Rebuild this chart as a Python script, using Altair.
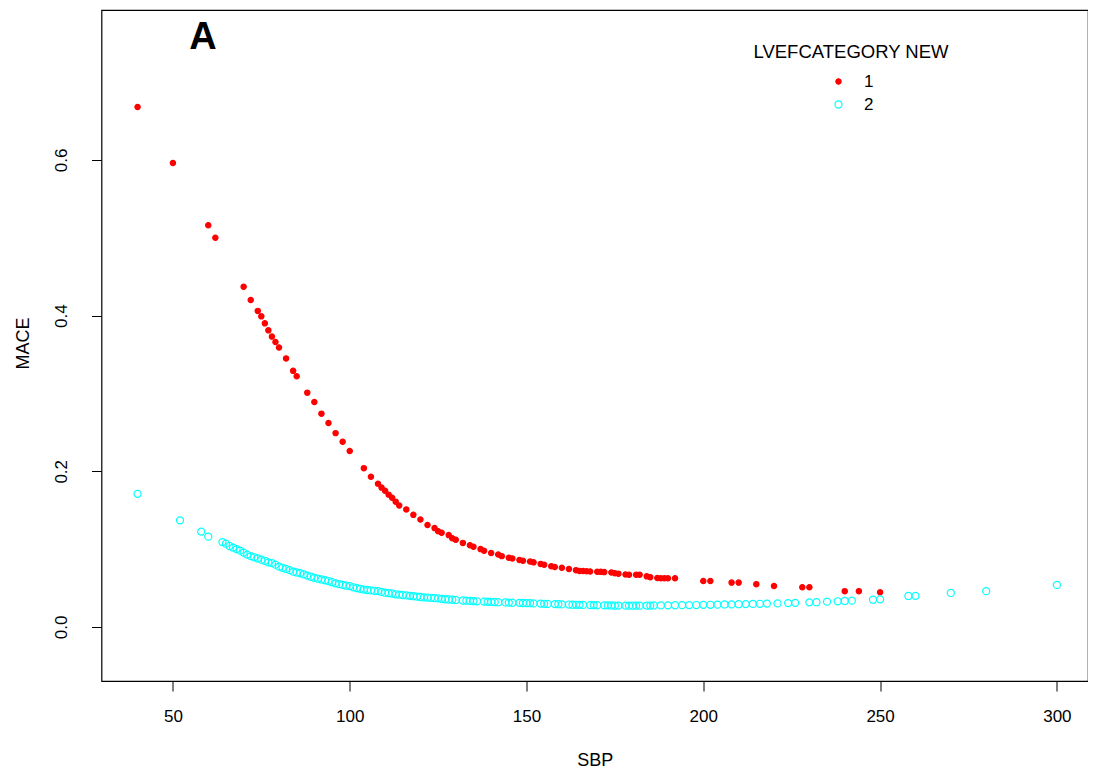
import altair as alt
import pandas as pd

# ---- data ----
red_sbp = [40, 50, 60, 62, 70, 72, 74, 75, 76, 77, 78, 79, 80, 82, 84, 85, 88, 90, 92, 94,
           96, 98, 100, 104, 106, 108, 109, 110, 111, 112, 113, 114, 116, 118, 120, 122, 124,
           125, 126, 128, 129, 130, 132, 134, 135, 137, 138, 140, 142, 143, 145, 146, 148, 149,
           151, 152, 154, 155, 157, 158, 160, 162, 164, 165, 166, 167, 168, 170, 171, 172, 174,
           175, 176, 178, 179, 181, 182, 184, 185, 187, 188, 189, 190, 192, 200, 202, 208, 210,
           215, 220, 228, 230, 240, 244, 250]
red_mace = [0.668, 0.596, 0.516, 0.500, 0.437, 0.420, 0.406, 0.399, 0.390, 0.381, 0.373, 0.366,
            0.359, 0.345, 0.329, 0.322, 0.301, 0.289, 0.274, 0.262, 0.249, 0.238, 0.226, 0.204,
            0.193, 0.184, 0.179, 0.175, 0.170, 0.166, 0.161, 0.156, 0.151, 0.144, 0.138, 0.131,
            0.127, 0.123, 0.121, 0.118, 0.114, 0.112, 0.108, 0.105, 0.103, 0.100, 0.098, 0.095,
            0.093, 0.091, 0.089, 0.088, 0.086, 0.085, 0.084, 0.083, 0.081, 0.080, 0.078, 0.077,
            0.076, 0.0745, 0.073, 0.072, 0.0718, 0.0715, 0.0713, 0.071, 0.0708, 0.0705, 0.070,
            0.069, 0.0685, 0.0675, 0.067, 0.067, 0.067, 0.065, 0.064, 0.063, 0.0625, 0.0625,
            0.0625, 0.0625, 0.059, 0.059, 0.057, 0.057, 0.055, 0.0527, 0.051, 0.051, 0.046,
            0.046, 0.0445]

cyan_sbp = [40, 52, 58, 60, 64, 65, 66, 67, 68, 69, 70, 71, 72, 73, 74, 75, 76, 77, 78, 79, 80,
            81, 82, 83, 84, 85, 86, 87, 88, 89, 90, 91, 92, 93, 94, 95, 96, 97, 98, 99, 100, 101,
            102, 103, 104, 105, 106, 107, 108, 109, 110, 111, 112, 113, 114, 115, 116, 117, 118,
            119, 120, 121, 122, 123, 124, 125, 126, 127, 128, 129, 130, 132, 133, 134, 135, 136,
            138, 139, 140, 141, 142, 144, 145, 146, 148, 149, 150, 151, 152, 154, 155, 156, 158,
            159, 160, 162, 163, 164, 165, 166, 168, 169, 170, 172, 173, 174, 175, 176, 178, 179,
            180, 181, 182, 184, 185, 186, 188, 190, 192, 194, 196, 198, 200, 202, 204, 206, 208,
            210, 212, 214, 216, 218, 221, 224, 226, 230, 232, 235, 238, 240, 242, 248, 250, 258,
            260, 270, 280, 300]
cyan_mace = [0.171, 0.137, 0.1225, 0.116, 0.109, 0.107, 0.104, 0.102, 0.100, 0.098, 0.0955,
             0.093, 0.091, 0.0895, 0.088, 0.0865, 0.085, 0.083, 0.082, 0.080, 0.0775, 0.076,
             0.0745, 0.073, 0.071, 0.070, 0.069, 0.0675, 0.066, 0.0645, 0.063, 0.062, 0.061,
             0.060, 0.059, 0.0575, 0.056, 0.055, 0.054, 0.053, 0.0525, 0.051, 0.050, 0.049,
             0.048, 0.0475, 0.047, 0.0465, 0.046, 0.045, 0.044, 0.0435, 0.043, 0.042, 0.0415,
             0.041, 0.0405, 0.040, 0.0395, 0.039, 0.0385, 0.038, 0.0378, 0.0375, 0.037, 0.0368,
             0.036, 0.0356, 0.0353, 0.035, 0.0347, 0.034, 0.0338, 0.0335, 0.0333, 0.033, 0.0326,
             0.0324, 0.0322, 0.032, 0.0318, 0.0315, 0.0313, 0.0311, 0.031, 0.0308, 0.0306,
             0.0305, 0.0303, 0.030, 0.0298, 0.0296, 0.0294, 0.0292, 0.029, 0.0288, 0.0286,
             0.0285, 0.0284, 0.0283, 0.0281, 0.028, 0.0279, 0.0278, 0.0277, 0.0276, 0.0275,
             0.0275, 0.0274, 0.0274, 0.0274, 0.0274, 0.0274, 0.0275, 0.0275, 0.0276, 0.0277,
             0.0278, 0.0279, 0.028, 0.0281, 0.0282, 0.0284, 0.0285, 0.0287, 0.0289, 0.029,
             0.0292, 0.0294, 0.0296, 0.0298, 0.030, 0.0303, 0.0307, 0.031, 0.0316, 0.0318,
             0.0325, 0.033, 0.0334, 0.0338, 0.035, 0.0355, 0.0398, 0.040, 0.0437, 0.046, 0.054]

categories = ["1", "2"]
x_ticks = [50, 100, 150, 200, 250, 300]
y_ticks = [0.0, 0.2, 0.4, 0.6]
panel_text = ["A"]
legend_heading = ["LVEFCATEGORY NEW"]

df = pd.DataFrame({
    "SBP": red_sbp + cyan_sbp,
    "MACE": red_mace + cyan_mace,
    "LVEF": [categories[0]] * len(red_sbp) + [categories[1]] * len(cyan_sbp),
})

FONT = "Liberation Sans"
W = 986.5
H = 671
LEFT = 101.5
TOP = 10

leg = alt.Legend(title=None, orient="none", legendX=838 - LEFT - 8, legendY=73 - TOP,
                 labelFont=FONT, labelFontSize=17, labelColor="#000", labelOffset=17,
                 rowPadding=5, padding=0, symbolStrokeWidth=1.2)

points = alt.Chart(df).mark_point(shape="circle", strokeWidth=1.2, opacity=1).encode(
    x=alt.X("SBP:Q",
            scale=alt.Scale(domain=[29.8, 308.8], nice=False, zero=False),
            axis=alt.Axis(values=x_ticks, title="SBP", grid=False, domain=False,
                          tickColor="#000", tickSize=10, tickWidth=1,
                          labelFont=FONT, labelFontSize=17, labelColor="#000", labelPadding=17,
                          titleFont=FONT, titleFontSize=18, titleFontWeight="normal",
                          titleColor="#000", titleY=79, titleBaseline="middle")),
    y=alt.Y("MACE:Q",
            scale=alt.Scale(domain=[-0.0694, 0.7925], nice=False, zero=False),
            axis=alt.Axis(values=y_ticks, format=".1f", title="MACE", grid=False, domain=False,
                          tickColor="#000", tickSize=10, tickWidth=1,
                          labelFont=FONT, labelFontSize=17, labelColor="#000", labelPadding=21,
                          labelAngle=270, labelAlign="center", labelBaseline="bottom",
                          titleFont=FONT, titleFontSize=18, titleFontWeight="normal",
                          titleColor="#000", titleAngle=270, titleX=23 - LEFT, titleY=343 - TOP,
                          titleAlign="center", titleBaseline="middle")),
    fill=alt.Fill("LVEF:N", scale=alt.Scale(domain=categories, range=["#FF0000", "transparent"]),
                  legend=leg),
    stroke=alt.Stroke("LVEF:N", scale=alt.Scale(domain=categories, range=["#FF0000", "#00FFFF"]),
                      legend=leg),
    size=alt.Size("LVEF:N", scale=alt.Scale(domain=categories, range=[28, 50]), legend=leg),
)

panel_label = alt.Chart(pd.DataFrame({"t": panel_text})).mark_text(
    font=FONT, fontSize=38, fontWeight="bold", color="#000",
    align="center", baseline="alphabetic").encode(
    text="t:N", x=alt.value(203 - LEFT), y=alt.value(49 - TOP))

legend_title = alt.Chart(pd.DataFrame({"t": legend_heading})).mark_text(
    font=FONT, fontSize=18.5, color="#000",
    align="center", baseline="middle").encode(
    text="t:N", x=alt.value(851 - LEFT), y=alt.value(52 - TOP))

chart = alt.layer(points, panel_label, legend_title).properties(
    width=W, height=H,
    autosize=alt.AutoSizeParams(type="none"),
    padding={"left": LEFT - 8, "top": TOP - 8, "right": 0, "bottom": 90},
    background="white",
).configure_view(stroke="#000", strokeWidth=1.2)

chart.save("out.html", embed_options={"renderer": "svg", "actions": False})
